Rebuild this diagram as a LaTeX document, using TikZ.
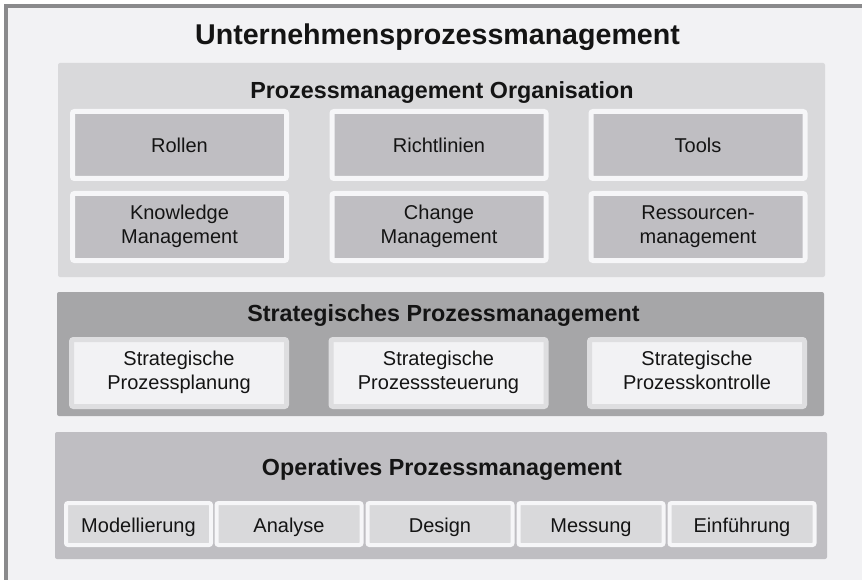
\documentclass[tikz,border=0pt]{standalone}
\usepackage{fontspec}
\setmainfont{Liberation Sans}
\definecolor{framec}{RGB}{138,138,140}
\definecolor{bgc}{RGB}{242,242,244}
\definecolor{orgpanel}{RGB}{217,217,219}
\definecolor{orgborder}{RGB}{246,246,248}
\definecolor{orgbox}{RGB}{191,190,194}
\definecolor{strpanel}{RGB}{166,166,168}
\definecolor{strborder}{RGB}{222,222,224}
\definecolor{strbox}{RGB}{242,242,244}
\definecolor{oppanel}{RGB}{191,190,194}
\definecolor{opborder}{RGB}{246,246,248}
\definecolor{opbox}{RGB}{217,217,219}
\definecolor{txt}{RGB}{20,20,20}
\newcommand{\mystrut}{\rule[-4.5pt]{0pt}{25pt}}
\tikzset{
  panel/.style={rounded corners=2pt, draw=none},
  boxtext/.style={text=txt, font=\fontsize{20}{24}\selectfont, align=center, inner sep=0pt, outer sep=0pt,
    execute at begin node=\mystrut, execute at end node=\mystrut},
  orgnode/.style={boxtext, draw=orgborder, line width=5pt, fill=orgbox, rounded corners=2pt,
    minimum width=214pt, minimum height=67pt},
  strnode/.style={boxtext, draw=strborder, line width=5pt, fill=strbox, rounded corners=2pt,
    minimum width=215pt, minimum height=67pt},
  opnode/.style={boxtext, draw=opborder, line width=4pt, fill=opbox, rounded corners=2pt,
    minimum width=145pt, minimum height=42pt},
  headtext/.style={text=txt, font=\bfseries\fontsize{23.3}{28}\selectfont, anchor=base, inner sep=0pt},
}
\begin{document}
\begin{tikzpicture}[x=1pt,y=-1pt]
\useasboundingbox (0,0) rectangle (862,580);
\clip (0,0) rectangle (862,580);
\fill[white] (0,0) rectangle (862,580);
\draw[line width=4pt, draw=framec, fill=bgc] (6,6) rectangle (890,610);
\node[text=txt, font=\bfseries\fontsize{28.6}{34}\selectfont, anchor=base, inner sep=0pt] (title) at (437.5,45) {Unternehmensprozessmanagement};

% Organisation panel
\fill[panel, orgpanel] (58,63) rectangle (825,277);
\node[headtext] (orgtitle) at (442,99) {Prozessmanagement Organisation};
\node[orgnode] (rollen) at (179.5,145) {Rollen};
\node[orgnode] (richt) at (439,145) {Richtlinien};
\node[orgnode] (tools) at (698,145) {Tools};
\node[orgnode] (know) at (179.5,227) {Knowledge\\Management};
\node[orgnode] (change) at (439,227) {Change\\Management};
\node[orgnode] (ress) at (698,227) {Ressourcen-\\management};

% Strategic panel
\fill[panel, strpanel] (57,292) rectangle (824,416);
\node[headtext] (strtitle) at (443.5,321) {Strategisches Prozessmanagement};
\node[strnode] (plan) at (179,373) {Strategische\\Prozessplanung};
\node[strnode] (steu) at (438.5,373) {Strategische\\Prozesssteuerung};
\node[strnode] (kontr) at (697,373) {Strategische\\Prozesskontrolle};

% Operative panel
\fill[panel, oppanel] (55,432) rectangle (827,559);
\node[headtext] (optitle) at (442,475) {Operatives Prozessmanagement};
\node[opnode] (mod) at (138.5,524) {Modellierung};
\node[opnode] (ana) at (289,524) {Analyse};
\node[opnode] (des) at (440,524) {Design};
\node[opnode] (mess) at (591,524) {Messung};
\node[opnode] (einf) at (742,524) {Einführung};
\end{tikzpicture}
\end{document}
